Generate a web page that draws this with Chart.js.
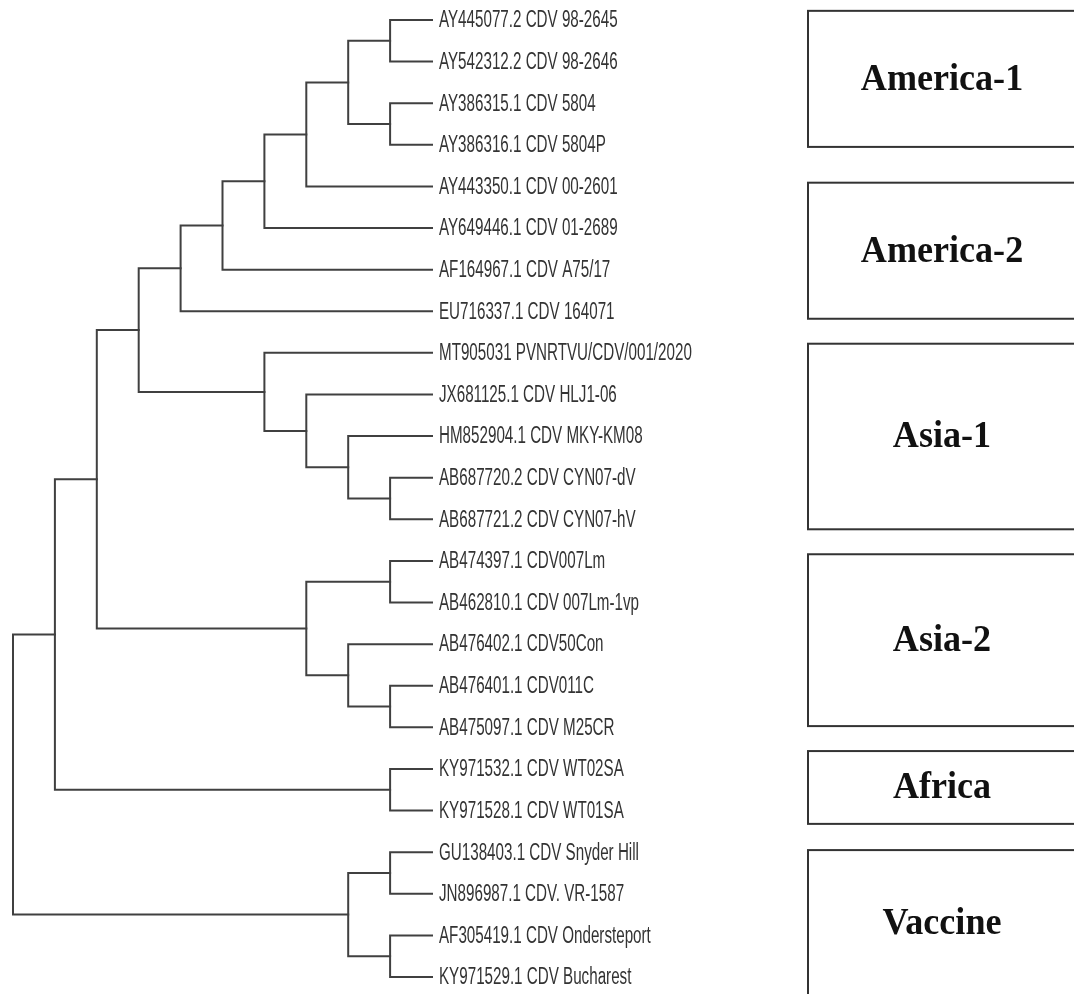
<!DOCTYPE html>
<html>
<head>
<meta charset="utf-8">
<script src="https://cdn.jsdelivr.net/npm/chart.js@4/dist/chart.umd.min.js"></script>
<style>
  html, body { margin: 0; padding: 0; background: #fff; }
  #wrap { width: 1074px; height: 994px; }
</style>
</head>
<body>
<div id="wrap"><canvas id="tree" width="1074" height="994"></canvas></div>
<script>
// leaves, top to bottom
const leafNames = [
  'AY445077.2 CDV 98-2645',
  'AY542312.2 CDV 98-2646',
  'AY386315.1 CDV 5804',
  'AY386316.1 CDV 5804P',
  'AY443350.1 CDV 00-2601',
  'AY649446.1 CDV 01-2689',
  'AF164967.1 CDV A75/17',
  'EU716337.1 CDV 164071',
  'MT905031 PVNRTVU/CDV/001/2020',
  'JX681125.1 CDV HLJ1-06',
  'HM852904.1 CDV MKY-KM08',
  'AB687720.2 CDV CYN07-dV',
  'AB687721.2 CDV CYN07-hV',
  'AB474397.1 CDV007Lm',
  'AB462810.1 CDV 007Lm-1vp',
  'AB476402.1 CDV50Con',
  'AB476401.1 CDV011C',
  'AB475097.1 CDV M25CR',
  'KY971532.1 CDV WT02SA',
  'KY971528.1 CDV WT01SA',
  'GU138403.1 CDV Snyder Hill',
  'JN896987.1 CDV. VR-1587',
  'AF305419.1 CDV Ondersteport',
  'KY971529.1 CDV Bucharest'
];
const tipDepth = 10;

// internal nodes: two children each ('L' = leaf index, 'N' = node index) and branch depth
const nodeKids = [
  ['L0', 'L1'], ['L2', 'L3'], ['N0', 'N1'], ['N2', 'L4'], ['N3', 'L5'], ['N4', 'L6'], ['N5', 'L7'],
  ['L11', 'L12'], ['L10', 'N7'], ['L9', 'N8'], ['L8', 'N9'], ['N6', 'N10'],
  ['L13', 'L14'], ['L16', 'L17'], ['L15', 'N13'], ['N12', 'N14'], ['N11', 'N15'],
  ['L18', 'L19'], ['N16', 'N17'],
  ['L20', 'L21'], ['L22', 'L23'], ['N19', 'N20'], ['N18', 'N21']
];
const nodeDepth = [9, 9, 8, 7, 6, 5, 4, 9, 8, 7, 6, 3, 9, 9, 8, 7, 2, 9, 1, 9, 9, 8, 0];

// clades shown in the boxes (first and last leaf)
const groupNames = ['America-1', 'America-2', 'Asia-1', 'Asia-2', 'Africa', 'Vaccine'];
const groupFirst = [0, 4, 8, 13, 18, 20];
const groupLast = [3, 7, 12, 17, 19, 23];

// box edges relative to the first/last leaf (layout only)
const boxPad = [[0.22, 0.05], [0.09, 0.18], [0.22, 0.24], [0.16, -0.03], [0.43, 0.32], [0.05, 0.46]];

const nodeY = [];
function posOf(ref) {
  const i = parseInt(ref.slice(1), 10);
  if (ref[0] === 'L') return { x: tipDepth, y: i };
  return { x: nodeDepth[i], y: nodeY[i] };
}

const datasets = nodeKids.map((kids, i) => {
  const a = posOf(kids[0]);
  const b = posOf(kids[1]);
  nodeY[i] = (a.y + b.y) / 2;
  const d = nodeDepth[i];
  return {
    data: [{ x: a.x, y: a.y }, { x: d, y: a.y }, { x: d, y: b.y }, { x: b.x, y: b.y }],
    showLine: true,
    borderColor: '#404040',
    borderWidth: 2,
    pointRadius: 0,
    tension: 0,
    fill: false,
    clip: false,
    borderJoinStyle: 'miter',
    borderCapStyle: 'square'
  };
});

const labelsPlugin = {
  id: 'treeLabels',
  afterDatasetsDraw(chart) {
    const { ctx, scales } = chart;
    const x0 = scales.x.getPixelForValue(tipDepth) + 7;
    ctx.save();
    ctx.fillStyle = '#333';
    ctx.font = '23px "Liberation Sans", Arial, sans-serif';
    ctx.textBaseline = 'middle';
    leafNames.forEach((name, i) => {
      const y = scales.y.getPixelForValue(i) + 1;
      ctx.save();
      ctx.translate(x0, y);
      ctx.scale(0.66, 1);
      ctx.fillText(name, 0, 0);
      ctx.restore();
    });

    // clade boxes
    const left = 808, right = 1076;
    groupNames.forEach((name, g) => {
      const top = scales.y.getPixelForValue(groupFirst[g] - boxPad[g][0]);
      const bottom = scales.y.getPixelForValue(groupLast[g] + boxPad[g][1]);
      ctx.strokeStyle = '#333';
      ctx.lineWidth = 2;
      ctx.strokeRect(left, top, right - left, bottom - top);
      ctx.save();
      ctx.translate((left + right) / 2, (top + bottom) / 2 + 1);
      ctx.scale(0.95, 1);
      ctx.fillStyle = '#111';
      ctx.font = 'bold 38px "Liberation Serif", "Times New Roman", serif';
      ctx.textAlign = 'center';
      ctx.textBaseline = 'middle';
      ctx.fillText(name, 0, 0);
      ctx.restore();
    });
    ctx.restore();
  }
};

new Chart(document.getElementById('tree'), {
  type: 'scatter',
  data: { datasets },
  options: {
    responsive: false,
    animation: false,
    layout: { padding: { left: 13, right: 642, top: 20, bottom: 17 } },
    plugins: { legend: { display: false }, tooltip: { enabled: false } },
    scales: {
      x: { type: 'linear', min: 0, max: tipDepth, display: false },
      y: { type: 'linear', min: 0, max: leafNames.length - 1, reverse: true, display: false }
    }
  },
  plugins: [labelsPlugin]
});
</script>
</body>
</html>
